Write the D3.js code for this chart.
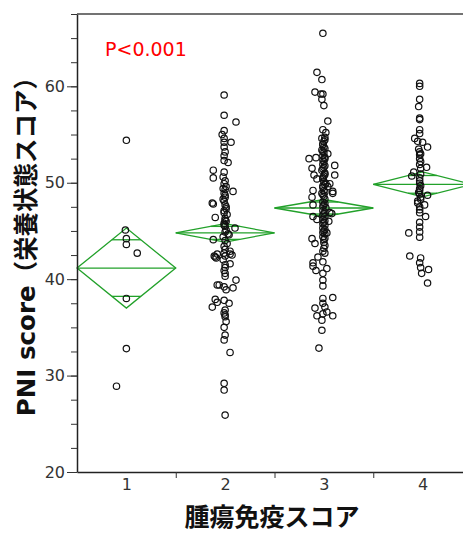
<!DOCTYPE html>
<html>
<head>
<meta charset="utf-8">
<script src="https://cdn.jsdelivr.net/npm/d3@7.9.0/dist/d3.min.js"></script>
<style>
  body { margin: 0; background: #fff; }
  svg { display: block; }
</style>
</head>
<body>
<div id="chart"></div>
<script>
// categories and summary stats
const categories = [1, 2, 3, 4];
const groupMeans = [41.15, 44.8, 47.38, 49.83];
const ciLow = [37.0, 43.85, 46.5, 48.53];
const ciHigh = [45.3, 45.75, 48.26, 51.13];
const yMajorTicks = [20, 30, 40, 50, 60];
const pLabel = 'P<0.001';

// points: [jitter (category units), PNI score]
const group1 = [
  [0, 54.4], [-0.01, 45.1], [0, 44.2], [0, 43.6], [0.11, 42.7], [0, 38.0], [0, 32.8], [-0.1, 28.9]
];
const group2 = [
  [-0.01, 59.1], [-0.01, 57.0], [0.11, 56.3], [-0.01, 55.4], [-0.03, 55.0], [-0.01, 54.6], [0.06, 54.2],
  [-0.01, 54.2], [-0.01, 53.7], [0, 53.2], [-0.01, 52.8], [-0.01, 52.3], [0.03, 52.1], [-0.12, 51.3],
  [-0.01, 51.1], [-0.12, 50.5], [-0.02, 50.6], [0, 50.2], [-0.01, 49.9], [0.01, 49.6], [-0.02, 49.4],
  [0.08, 49.1], [-0.01, 48.9], [0, 48.5], [-0.13, 47.9], [-0.12, 47.8], [-0.01, 48.1], [0, 47.7],
  [0.01, 47.3], [-0.01, 46.9], [-0.1, 46.4], [0, 46.3], [0.01, 46.0], [-0.01, 45.8], [0.1, 45.3],
  [0, 45.5], [0.03, 44.7], [-0.12, 44.1], [0, 49.3], [0, 48.7], [-0.02, 48.3], [0.01, 47.5],
  [-0.01, 47.1], [0.02, 46.7], [0, 46.1], [-0.01, 45.6], [0.01, 45.1], [0, 44.9], [0.04, 44.6],
  [-0.02, 44.4], [0, 44.0], [0.02, 43.7], [-0.01, 43.4], [0, 43.1], [0.05, 42.9], [-0.08, 42.6],
  [-0.01, 42.7], [0.07, 42.5], [-0.1, 42.3], [-0.11, 42.4], [-0.09, 42.2], [0, 42.4], [0.05, 42.6],
  [-0.02, 42.0], [0.05, 41.6], [0, 41.5], [0, 41.2], [-0.01, 40.9], [0, 40.6], [0, 40.3],
  [0.11, 39.9], [-0.08, 39.4], [-0.06, 39.4], [-0.01, 39.2], [0.08, 39.1], [0.01, 38.9], [-0.1, 37.9],
  [-0.08, 37.6], [-0.13, 37.1], [-0.01, 37.8], [0.04, 37.5], [0, 36.8], [-0.01, 36.5], [0, 36.3],
  [0, 36.1], [0.01, 35.6], [-0.01, 35.0], [0, 34.2], [-0.01, 33.7], [0.05, 32.4], [-0.01, 29.2],
  [-0.01, 28.5], [0, 25.9]
];
const group3 = [
  [-0.01, 65.5], [-0.07, 61.45], [-0.02, 60.7], [-0.09, 59.4], [-0.03, 59.2], [-0.01, 59.2], [-0.02, 58.65],
  [0, 58.0], [0.04, 56.4], [-0.01, 55.5], [0.02, 55.2], [-0.02, 54.6], [0.01, 54.7],
  [0, 54.3], [-0.01, 54.0], [0, 53.7], [-0.02, 53.4], [0, 53.1], [-0.01, 52.8], [0.01, 52.5],
  [0, 52.2], [-0.01, 51.9], [0, 51.6], [-0.02, 51.3], [0.01, 51.0], [0, 50.7], [-0.01, 50.4],
  [0, 50.1], [0.01, 49.8], [-0.01, 49.5], [0, 49.2], [-0.02, 48.9], [0, 48.6], [0.01, 48.3],
  [-0.01, 48.0], [0, 47.7], [0.02, 47.4], [-0.01, 47.1], [0, 46.8], [0.01, 46.5], [-0.01, 46.2],
  [0, 45.9], [0.01, 45.6], [-0.01, 45.3], [0, 45.0], [0.01, 44.7], [-0.01, 44.4], [0, 44.1],
  [0, 43.8], [0.01, 43.5], [0, 43.2], [-0.01, 42.9],
  [0.01, 54.45], [-0.01, 53.95], [0.01, 53.55], [-0.01, 53.25], [0.01, 52.65], [-0.01, 52.35], [0.01, 51.75],
  [-0.01, 51.45], [0.01, 50.85], [-0.01, 50.55], [0.02, 49.95], [-0.01, 49.65], [0.01, 49.05], [-0.01, 48.75],
  [0.01, 47.85], [-0.01, 47.55], [0.01, 46.95], [-0.01, 46.65], [0.01, 46.05], [-0.01, 45.75], [0.01, 45.15],
  [-0.01, 44.85], [0.01, 44.25],
  [-0.15, 52.5], [-0.08, 52.6], [0.04, 53.0], [0.11, 51.8], [-0.12, 51.5], [-0.1, 50.8], [0.11, 50.8],
  [-0.07, 50.4], [-0.11, 49.2], [0.04, 49.6], [0.09, 49.1], [0.06, 49.9], [-0.12, 48.5], [0.09, 48.9],
  [-0.11, 47.7], [0.06, 46.9], [0.08, 46.8], [-0.11, 46.5], [-0.07, 46.2], [0.05, 46.0], [-0.12, 44.2],
  [-0.09, 43.7], [0.03, 44.8], [0.01, 42.7], [-0.06, 42.3], [-0.11, 41.35], [-0.08, 40.9], [-0.11, 41.7],
  [-0.01, 41.8], [0.03, 41.1], [-0.01, 40.6], [-0.01, 39.9], [-0.01, 39.3], [0.09, 38.1], [-0.01, 38.0],
  [-0.01, 37.5], [-0.09, 37.0], [0.01, 37.1], [-0.07, 36.2], [0.09, 36.2], [-0.01, 36.4], [-0.02, 35.75],
  [0.03, 36.6], [-0.02, 34.7], [-0.05, 32.85]
];
const group4 = [
  [-0.03, 60.3], [-0.03, 60.0], [-0.03, 58.65], [-0.04, 57.9], [-0.03, 56.7], [-0.03, 56.55], [-0.03, 55.1],
  [-0.08, 54.6], [-0.05, 54.3], [0, 54.2], [0.05, 53.7], [-0.03, 53.2], [-0.03, 52.9], [-0.02, 53.0],
  [-0.03, 52.5], [-0.02, 51.5], [0.04, 51.6], [-0.09, 51.1], [-0.11, 50.7], [-0.03, 50.5], [-0.03, 49.95],
  [-0.03, 49.4], [-0.03, 48.8], [-0.02, 48.5], [0.05, 48.7], [-0.05, 47.9], [0.02, 47.7], [-0.03, 47.5],
  [0.03, 46.5], [-0.03, 45.9], [-0.03, 45.4], [-0.14, 44.8], [-0.03, 44.9], [-0.03, 44.35], [-0.13, 42.4],
  [-0.02, 42.2], [-0.03, 41.7], [-0.02, 41.2], [0.06, 41.0], [-0.01, 40.6], [0.05, 39.6],
  [-0.03, 50.2], [-0.02, 49.7], [-0.03, 49.2], [-0.04, 49.0], [-0.02, 48.3], [-0.05, 48.1], [-0.03, 47.2],
  [-0.03, 46.9], [-0.02, 52.2], [-0.03, 51.9], [-0.04, 53.5], [-0.03, 55.5], [-0.02, 50.9]
];
const groups = [group1, group2, group3, group4];

const width = 463;
const height = 533;
const margin = { top: 14, left: 77, bottom: 61 };
const plotRight = 472; // plot runs past the window edge

const svg = d3.select('#chart')
  .append('svg')
  .attr('width', width)
  .attr('height', height);

const x = d3.scaleLinear()
  .domain([0.5, 4.5])
  .range([margin.left, plotRight]);

const y = d3.scaleLinear()
  .domain([20, 67.5])
  .range([height - margin.bottom, margin.top]);

const green = '#22a12a';
const tickFont = '"DejaVu Sans", Verdana, sans-serif';

// diamonds
groups.forEach((g, i) => {
  const c = categories[i];
  const x0 = x(c - 0.5), x1 = x(c + 0.5), xc = x(c);
  const m = groupMeans[i];
  const lo = ciLow[i], hi = ciHigh[i];
  const gg = svg.append('g')
    .attr('fill', 'none')
    .attr('stroke', green)
    .attr('stroke-width', 1.3);
  gg.append('path')
    .attr('d', `M${x0},${y(m)}L${xc},${y(hi)}L${x1},${y(m)}L${xc},${y(lo)}Z`);
  gg.append('line')
    .attr('x1', x0).attr('x2', x1)
    .attr('y1', y(m)).attr('y2', y(m));
  // overlap marks
  const f = 1 - Math.SQRT1_2;
  const halfW = (x1 - x0) / 2 * f;
  [m + (hi - m) * Math.SQRT1_2, m - (m - lo) * Math.SQRT1_2].forEach(v => {
    gg.append('line')
      .attr('x1', xc - halfW).attr('x2', xc + halfW)
      .attr('y1', y(v)).attr('y2', y(v));
  });
});

// points
groups.forEach((g, i) => {
  svg.append('g')
    .selectAll('circle')
    .data(g)
    .join('circle')
    .attr('cx', d => x(categories[i] + d[0]))
    .attr('cy', d => y(d[1]))
    .attr('r', 3.2)
    .attr('fill', 'none')
    .attr('stroke', '#111')
    .attr('stroke-width', 1.2);
});

// y axis: minor then major ticks
svg.append('g')
  .attr('transform', `translate(${margin.left},0)`)
  .call(d3.axisLeft(y).tickValues(d3.range(20, 67.6, 2.5)).tickSize(6).tickSizeOuter(0).tickFormat(''))
  .call(g => g.select('.domain').attr('stroke', '#222').attr('stroke-width', 1.5))
  .call(g => g.selectAll('.tick line').attr('stroke', '#333'));

svg.append('g')
  .attr('transform', `translate(${margin.left},0)`)
  .call(d3.axisLeft(y).tickValues(yMajorTicks).tickSize(10).tickPadding(2).tickSizeOuter(0))
  .call(g => g.select('.domain').remove())
  .call(g => g.selectAll('.tick line').attr('stroke', '#333'))
  .call(g => g.selectAll('.tick text')
    .attr('fill', '#333')
    .attr('font-size', 16)
    .attr('font-family', tickFont));

// top frame line
svg.append('line')
  .attr('x1', margin.left).attr('x2', plotRight)
  .attr('y1', y(67.5)).attr('y2', y(67.5))
  .attr('stroke', '#444')
  .attr('stroke-width', 1.5);

// x axis: boundary ticks and category labels
svg.append('g')
  .attr('transform', `translate(0,${height - margin.bottom})`)
  .call(d3.axisBottom(x).tickValues([1.5, 2.5, 3.5]).tickSize(6).tickSizeOuter(0).tickFormat(''))
  .call(g => g.select('.domain').attr('stroke', '#222').attr('stroke-width', 1.5))
  .call(g => g.selectAll('.tick line').attr('stroke', '#333'));

svg.append('g')
  .attr('transform', `translate(0,${height - margin.bottom})`)
  .call(d3.axisBottom(x).tickValues(categories).tickSize(0).tickPadding(7).tickFormat(d3.format('d')))
  .call(g => g.select('.domain').remove())
  .call(g => g.selectAll('.tick text')
    .attr('fill', '#333')
    .attr('font-size', 16)
    .attr('font-family', tickFont));

// titles
svg.append('text')
  .attr('x', 272)
  .attr('y', 526)
  .attr('text-anchor', 'middle')
  .attr('font-size', 25)
  .attr('font-weight', 'bold')
  .attr('font-family', '"Noto Sans CJK JP", sans-serif')
  .attr('fill', '#111')
  .text('腫瘍免疫スコア');

svg.append('text')
  .attr('transform', `translate(35,240.5) rotate(-90)`)
  .attr('text-anchor', 'middle')
  .attr('font-size', 24.5)
  .attr('font-weight', 'bold')
  .attr('font-family', '"DejaVu Sans", "Noto Sans CJK JP", sans-serif')
  .attr('fill', '#111')
  .text('PNI score（栄養状態スコア）');

svg.append('text')
  .attr('x', 105)
  .attr('y', 56)
  .attr('font-size', 19)
  .attr('font-family', tickFont)
  .attr('fill', '#ff0000')
  .text(pLabel);
</script>
</body>
</html>
